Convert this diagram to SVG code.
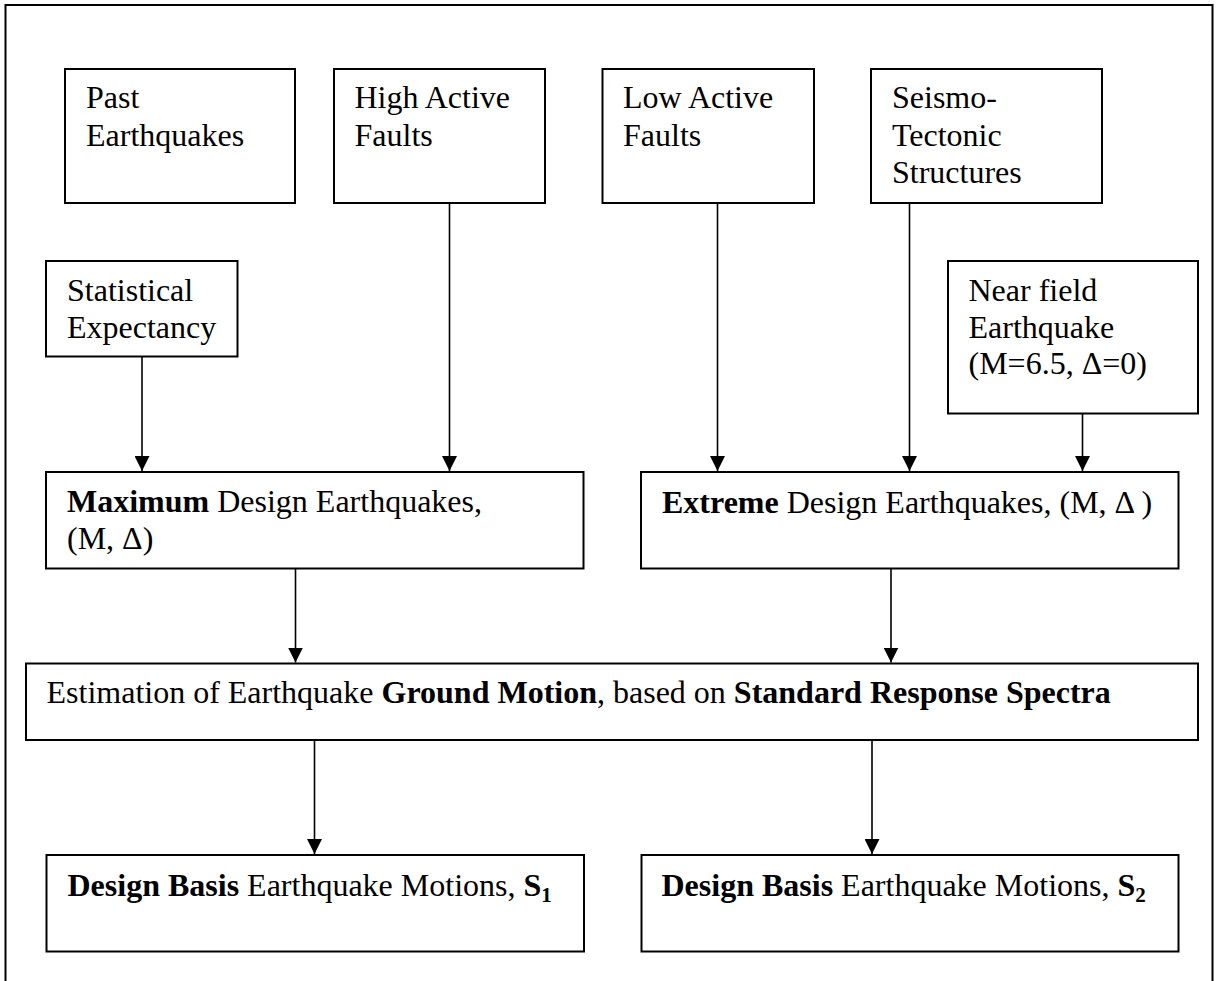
<svg xmlns="http://www.w3.org/2000/svg" width="1217" height="981" viewBox="0 0 1217 981">
<style>
.box{fill:#fff;stroke:#000;stroke-width:2}
.frame{fill:#fff;stroke:#000;stroke-width:2}
.t{font-family:"Liberation Serif","Times New Roman",serif;font-size:32px;fill:#000}
.b{font-weight:bold}
.c{stroke:#000;stroke-width:1.6;fill:none;marker-end:url(#ah)}
</style>
<defs>
<marker id="ah" viewBox="0 0 10 10" refX="10" refY="5" markerWidth="15" markerHeight="15" markerUnits="userSpaceOnUse" orient="auto">
<path d="M0,0 L10,5 L0,10 Z" fill="#000"/>
</marker>
</defs>
<rect class="frame" x="5.5" y="5" width="1207" height="1000"/>
<g id="past">
<rect class="box" x="65" y="69" width="230" height="134"/>
<text class="t" x="86" y="108">Past</text>
<text class="t" x="86" y="145.5">Earthquakes</text>
</g>
<g id="high">
<rect class="box" x="334" y="69" width="211" height="134"/>
<text class="t" x="354.5" y="108">High Active</text>
<text class="t" x="354.5" y="145.5">Faults</text>
</g>
<g id="low">
<rect class="box" x="602.5" y="69" width="211.5" height="134"/>
<text class="t" x="623" y="108">Low Active</text>
<text class="t" x="623" y="145.5">Faults</text>
</g>
<g id="seismo">
<rect class="box" x="871" y="69" width="231" height="134"/>
<text class="t" x="892" y="108">Seismo-</text>
<text class="t" x="892" y="145.5">Tectonic</text>
<text class="t" x="892" y="182.5">Structures</text>
</g>
<g id="stat">
<rect class="box" x="46" y="261" width="191.5" height="95.5"/>
<text class="t" x="67" y="301">Statistical</text>
<text class="t" x="67" y="337.5">Expectancy</text>
</g>
<g id="near">
<rect class="box" x="948" y="261" width="250" height="152.5"/>
<text class="t" x="968.5" y="301">Near field</text>
<text class="t" x="968.5" y="337.5">Earthquake</text>
<text class="t" x="968.5" y="374">(M=6.5, Δ=0)</text>
</g>
<g id="maximum">
<rect class="box" x="46" y="472" width="537.5" height="96.5"/>
<text class="t" x="67" y="511.5"><tspan class="b">Maximum</tspan> Design Earthquakes,</text>
<text class="t" x="67" y="548.5">(M, Δ)</text>
</g>
<g id="extreme">
<rect class="box" x="641" y="472" width="537.5" height="96.5"/>
<text class="t" x="662" y="513"><tspan class="b">Extreme</tspan> Design Earthquakes, (M, Δ )</text>
</g>
<g id="ground">
<rect class="box" x="26" y="663.5" width="1172" height="76.5"/>
<text class="t" x="46.5" y="703">Estimation of Earthquake <tspan class="b">Ground Motion</tspan>, based on <tspan class="b">Standard Response Spectra</tspan></text>
</g>
<g id="s1">
<rect class="box" x="46.5" y="855" width="537.5" height="96.5"/>
<text class="t" x="67.5" y="895.5"><tspan class="b">Design Basis</tspan> Earthquake Motions, <tspan class="b">S</tspan><tspan class="b" font-size="21" dy="6">1</tspan></text>
</g>
<g id="s2">
<rect class="box" x="641.5" y="855" width="537" height="96.5"/>
<text class="t" x="661.5" y="895.5"><tspan class="b">Design Basis</tspan> Earthquake Motions, <tspan class="b">S</tspan><tspan class="b" font-size="21" dy="6">2</tspan></text>
</g>
<g id="connectors">
<line class="c" x1="142" y1="356.5" x2="142" y2="471"/>
<line class="c" x1="449.5" y1="203" x2="449.5" y2="471"/>
<line class="c" x1="717.5" y1="203" x2="717.5" y2="471"/>
<line class="c" x1="909.5" y1="203" x2="909.5" y2="471"/>
<line class="c" x1="1082.5" y1="413.5" x2="1082.5" y2="471"/>
<line class="c" x1="295.5" y1="568.5" x2="295.5" y2="662.5"/>
<line class="c" x1="891" y1="568.5" x2="891" y2="662.5"/>
<line class="c" x1="314.5" y1="740" x2="314.5" y2="854"/>
<line class="c" x1="872" y1="740" x2="872" y2="854"/>
</g>
</svg>
